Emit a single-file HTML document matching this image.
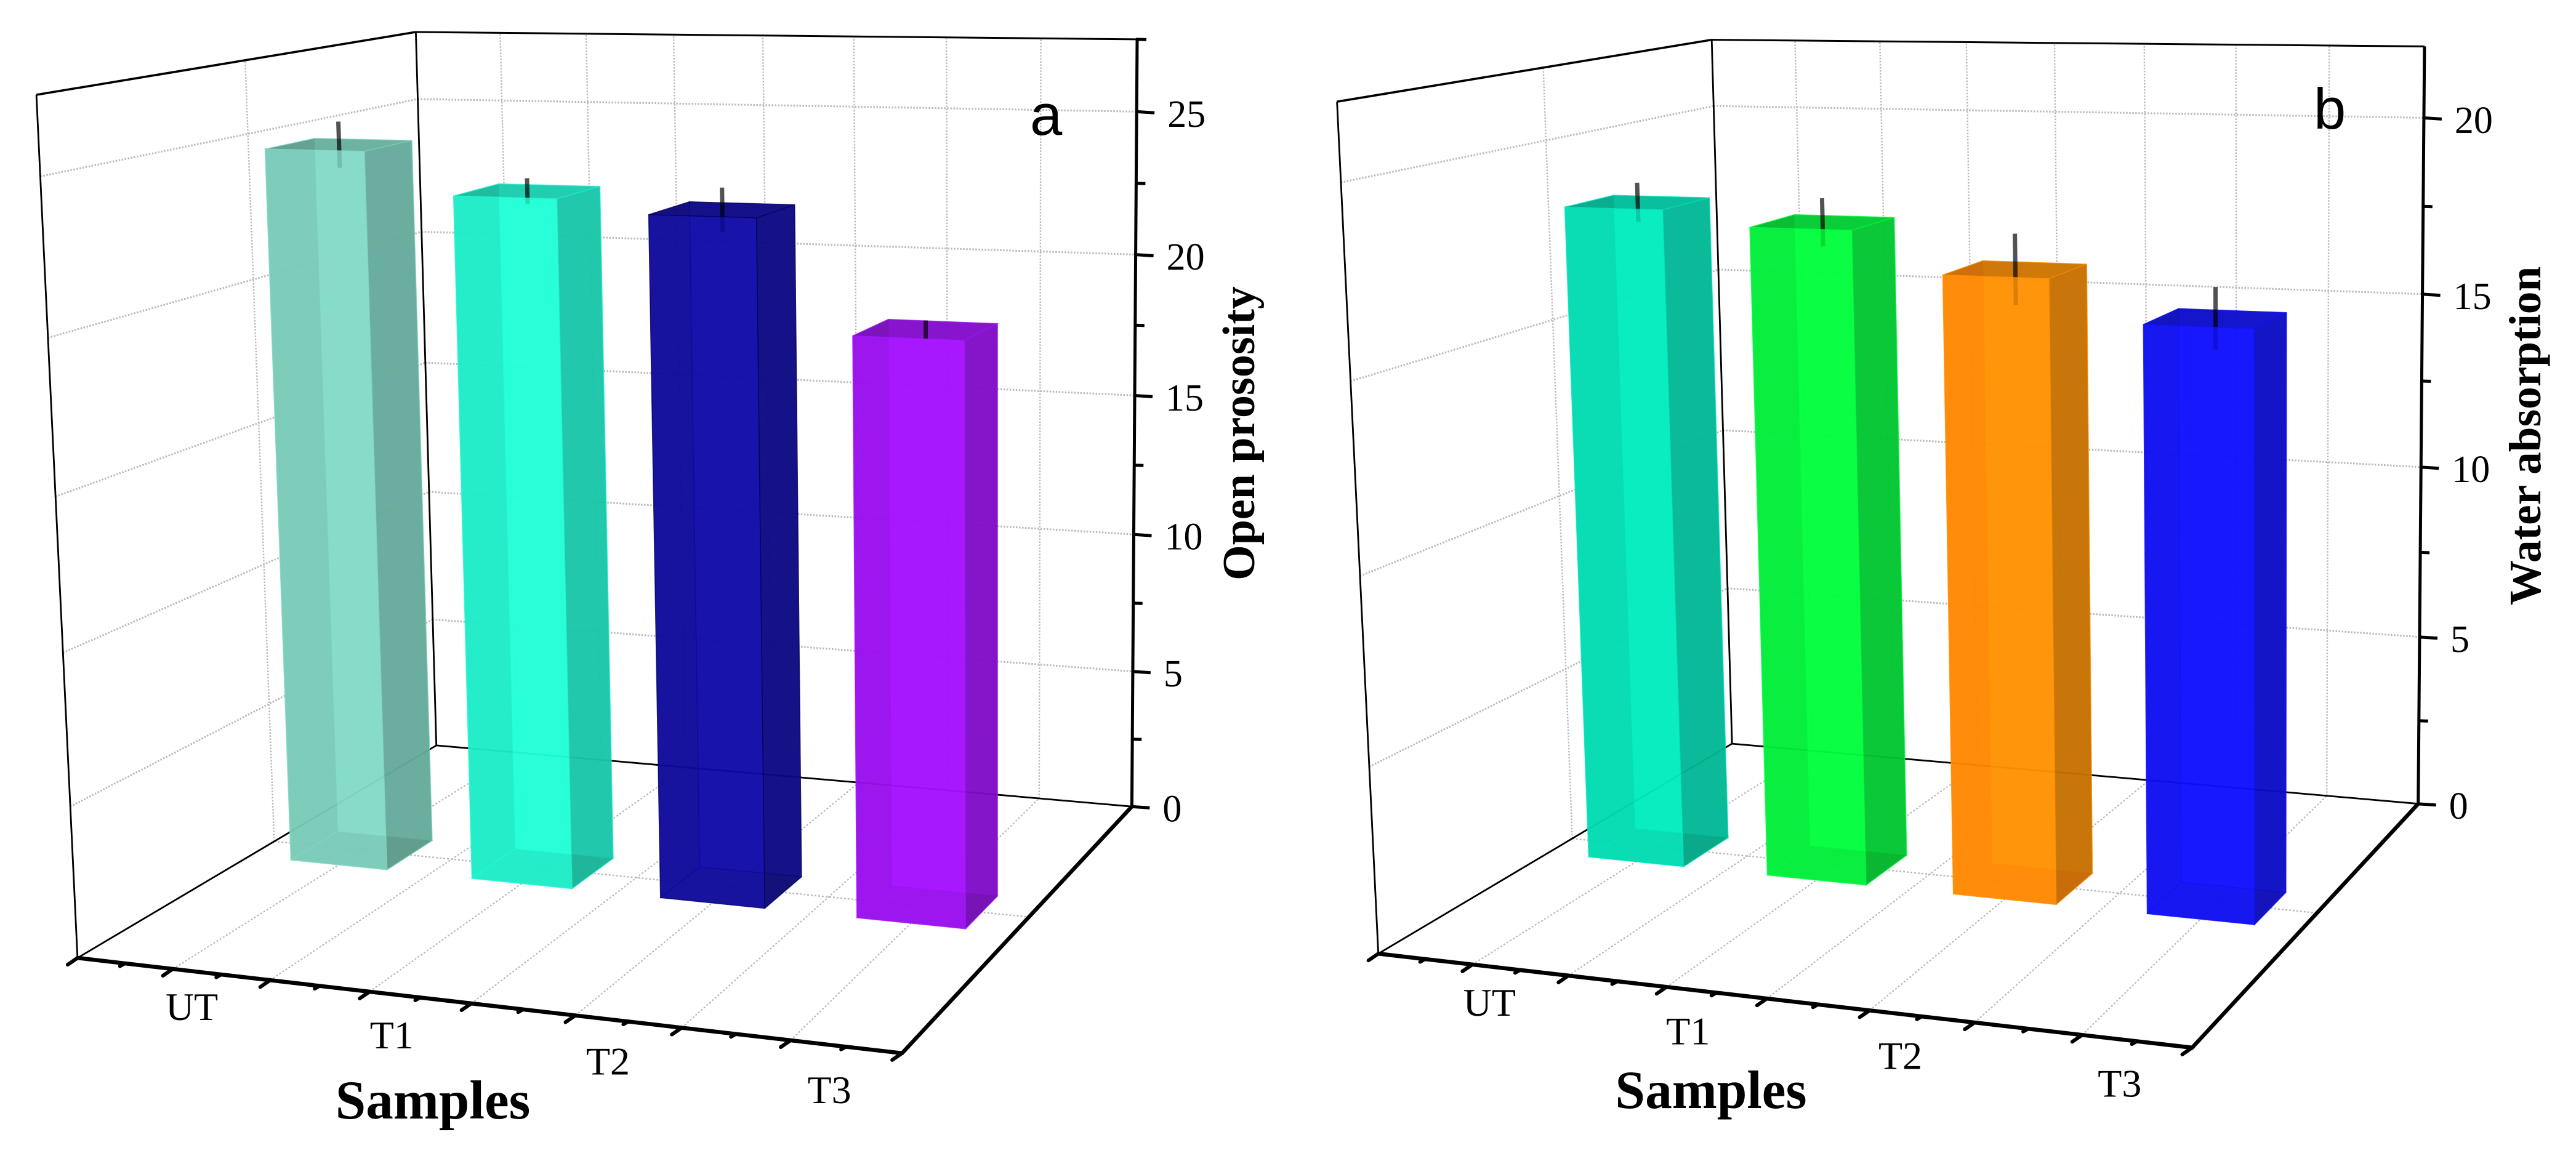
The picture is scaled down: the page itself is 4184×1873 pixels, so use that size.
<!DOCTYPE html>
<html lang="en">
<head>
<meta charset="utf-8">
<title>Open porosity and water absorption 3D bars</title>
<style>
html,body{margin:0;padding:0;background:#fff}
svg{display:block}
text{font-family:"Liberation Serif",serif;fill:#000}
.panel-letter{font-family:"Liberation Sans",sans-serif;font-size:94px}
.title{font-weight:bold}
</style>
</head>
<body>
<svg id="figure" xmlns="http://www.w3.org/2000/svg" width="4184" height="1873" viewBox="0 0 4184 1873">
  <rect x="0" y="0" width="4184" height="1873" fill="#fff"/>
  <g id="panel-a"></g>
  <g id="panel-b"></g>
  <text class="panel-letter" x="1673" y="219">a</text>
  <text class="panel-letter" x="3758" y="209">b</text>
  <text class="title" font-size="89" text-anchor="middle" x="703" y="1817">Samples</text>
  <text class="title" font-size="87.5" text-anchor="middle" x="2779" y="1800">Samples</text>
  <text class="title" font-size="74" text-anchor="middle" transform="translate(2037 704) rotate(-90)">Open prososity</text>
  <text class="title" font-size="73.3" text-anchor="middle" transform="translate(4126 708) rotate(-90)">Water absorption</text>
</svg>
<script>
const categories = ['UT', 'T1', 'T2', 'T3'];
const openPorosity = [24.7, 23.3, 22.87, 19.2];
const openPorosityError = [0.78, 0.43, 0.72, 0.3];
const waterAbsorption = [18.35, 17.95, 16.85, 15.75];
const waterAbsorptionError = [0.54, 0.65, 0.95, 0.82];
const yMajorTicksA = [0, 5, 10, 15, 20, 25];
const yMinorTicksA = [2.5, 7.5, 12.5, 17.5, 22.5, 27.5];
const yMajorTicksB = [0, 5, 10, 15, 20];
const yMinorTicksB = [2.5, 7.5, 12.5, 17.5];

const panels = [
  {
    id: 'panel-a', yMax: 27.5, values: openPorosity, errors: openPorosityError,
    yMajor: yMajorTicksA, yMinor: yMinorTicksA,
    corners: { F: [126, 1556], G: [1465, 1711], D: [1838.5, 1310], E: [708.5, 1211], A: [59, 154], B: [675.5, 52], C: [1847, 64] },
    labelDx: [31, 36, 53, 63], labelDy: [83, 92, 96, 102],
    colors: [[130, 219, 198], [31, 255, 215], [15, 10, 167], [164, 15, 255]],
    leftColors: [[72, 120, 109], [17, 140, 118], [8, 6, 92], [90, 8, 140]],
    edges: ['#7fd8c4', '#1ff8d0', '#000050', '#a018ff']
  },
  {
    id: 'panel-b', yMax: 22, values: waterAbsorption, errors: waterAbsorptionError,
    yMajor: yMajorTicksB, yMinor: yMinorTicksB,
    corners: { F: [2239, 1550], G: [3560, 1701.6], D: [3928, 1306], E: [2813, 1207.5], A: [2171.7, 164.7], B: [2780, 65], C: [3938, 75.4] },
    labelDx: [28, 35, 50, 61], labelDy: [83, 93, 95, 100],
    colors: [[0, 236, 190], [0, 255, 60], [255, 145, 0], [15, 15, 255]],
    leftColors: [[0, 130, 105], [0, 150, 40], [255, 87, 0], [8, 8, 170]],
    edges: ['#00e8c0', '#00ff40', '#ff9000', '#1010ff']
  }
];

const SVG_NS = 'http://www.w3.org/2000/svg';
const BAR_WIDTH = 0.134;
const Z_NEAR = 0.4325;
const Z_FAR = 0.5675;
const FACE_ALPHA = 0.8;

function solve(M, b) {
  const n = b.length;
  for (let i = 0; i < n; i++) {
    let piv = i;
    for (let r = i + 1; r < n; r++) if (Math.abs(M[r][i]) > Math.abs(M[piv][i])) piv = r;
    [M[i], M[piv]] = [M[piv], M[i]];
    [b[i], b[piv]] = [b[piv], b[i]];
    for (let r = i + 1; r < n; r++) {
      const f = M[r][i] / M[i][i];
      for (let c = i; c < n; c++) M[r][c] -= f * M[i][c];
      b[r] -= f * b[i];
    }
  }
  const x = new Array(n).fill(0);
  for (let i = n - 1; i >= 0; i--) {
    let s = b[i];
    for (let c = i + 1; c < n; c++) s -= M[i][c] * x[c];
    x[i] = s / M[i][i];
  }
  return x;
}

function fitCamera(c) {
  const cube = { F: [0, 0, 0], G: [1, 0, 0], D: [1, 0, 1], E: [0, 0, 1], A: [0, 1, 0], B: [0, 1, 1], C: [1, 1, 1] };
  const rows = [], rhs = [];
  for (const k of Object.keys(cube)) {
    const [x, y, z] = cube[k];
    const u = c[k][0] / 1000, v = c[k][1] / 1000;
    rows.push([x, y, z, 1, 0, 0, 0, 0, -u * x, -u * y, -u * z]);
    rhs.push(u);
    rows.push([0, 0, 0, 0, x, y, z, 1, -v * x, -v * y, -v * z]);
    rhs.push(v);
  }
  const N = [], t = [];
  for (let i = 0; i < 11; i++) {
    N.push(new Array(11).fill(0));
    t.push(0);
    for (let r = 0; r < rows.length; r++) {
      for (let j = 0; j < 11; j++) N[i][j] += rows[r][i] * rows[r][j];
      t[i] += rows[r][i] * rhs[r];
    }
  }
  const p = solve(N, t);
  return function (x, y, z) {
    const w = p[8] * x + p[9] * y + p[10] * z + 1;
    return [
      1000 * (p[0] * x + p[1] * y + p[2] * z + p[3]) / w,
      1000 * (p[4] * x + p[5] * y + p[6] * z + p[7]) / w
    ];
  };
}

function mk(tag, attrs, parent) {
  const node = document.createElementNS(SVG_NS, tag);
  for (const k in attrs) node.setAttribute(k, attrs[k]);
  parent.appendChild(node);
  return node;
}
function seg(a, b, stroke, width, parent, extra) {
  return mk('line', Object.assign({ x1: a[0].toFixed(1), y1: a[1].toFixed(1), x2: b[0].toFixed(1), y2: b[1].toFixed(1), stroke: stroke, 'stroke-width': width }, extra || {}), parent);
}
function face(points, rgb, shade, edge, parent) {
  const fill = 'rgb(' + rgb.map(v => Math.round(v * shade)).join(',') + ')';
  return mk('polygon', {
    points: points.map(q => q[0].toFixed(1) + ',' + q[1].toFixed(1)).join(' '),
    fill: fill, 'fill-opacity': FACE_ALPHA, stroke: edge, 'stroke-width': 1.5, 'stroke-opacity': 0.55
  }, parent);
}

const GRID = '#b8b8b8';
const wallDash = { 'stroke-dasharray': '2.5 2.5' };
const floorDash = { 'stroke-dasharray': '3 3' };

panels.forEach(function (panel) {
  const g = document.getElementById(panel.id);
  const project = fitCamera(panel.corners);
  const xScale = v => (v - 0.5) / 4;
  const yScale = v => v / panel.yMax;
  let el;

  // floor grid: lines from each major x tick running back, and mid-depth line
  for (let t = 1; t <= 7; t++) {
    const xv = 0.5 + t * 0.5;
    el = seg(project(xScale(xv), 0, 0), project(xScale(xv), 0, 1), GRID, 2.2, g, floorDash);
    
    
    el = seg(project(xScale(xv), 0, 1), project(xScale(xv), 1, 1), GRID, 2.4, g, wallDash);
    
    
  }
  el = seg(project(0, 0, 0.5), project(1, 0, 0.5), GRID, 2.4, g, floorDash);
  
  
  el = seg(project(0, 0, 0.5), project(0, 1, 0.5), GRID, 2.4, g, wallDash);
  
  

  panel.yMajor.forEach(function (v) {
    if (v === 0) return;
    const y = yScale(v);
    el = seg(project(0, y, 0), project(0, y, 1), GRID, 3, g, wallDash);
    
    
    el = seg(project(0, y, 1), project(1, y, 1), GRID, 3, g, wallDash);
    
    
  });

  // rear frame lines, seen through the translucent bars
  el = seg(project(0, 0, 0), project(0, 0, 1), '#000', 2.8, g);
  
  
  el = seg(project(0, 0, 1), project(1, 0, 1), '#000', 2.8, g);
  
  
  el = seg(project(0, 0, 1), project(0, 1, 1), '#000', 2.8, g);
  
  
  el = seg(project(0, 0, 0), project(0, 1, 0), '#000', 2.8, g);
  
  
  el = seg(project(0, 1, 0), project(0, 1, 1), '#000', 3.6, g);
  
  
  el = seg(project(0, 1, 1), project(1, 1, 1), '#000', 3, g);
  
  

  // bars
  categories.forEach(function (cat, i) {
    const cx = xScale(i + 1);
    const xa = cx - BAR_WIDTH / 2, xb = cx + BAR_WIDTH / 2;
    const top = yScale(panel.values[i]);
    const rgb = panel.colors[i], left = panel.leftColors[i], edge = panel.edges[i];
    const bar = mk('g', {}, g);
    
    
    const P = (x, y, z) => project(x, y, z);
    face([P(xa, 0, Z_FAR), P(xb, 0, Z_FAR), P(xb, top, Z_FAR), P(xa, top, Z_FAR)], rgb, 1, edge, bar);
    face([P(xa, 0, Z_NEAR), P(xa, 0, Z_FAR), P(xa, top, Z_FAR), P(xa, top, Z_NEAR)], left, 1, edge, bar);
    face([P(xa, 0, Z_NEAR), P(xb, 0, Z_NEAR), P(xb, 0, Z_FAR), P(xa, 0, Z_FAR)], left, 1, edge, bar);
    face([P(xa, top, Z_NEAR), P(xb, top, Z_NEAR), P(xb, top, Z_FAR), P(xa, top, Z_FAR)], rgb, 0.76, edge, bar);
    const zMid = (Z_NEAR + Z_FAR) / 2;
    el = seg(P(cx, yScale(panel.values[i] - panel.errors[i]), zMid), P(cx, yScale(panel.values[i] + panel.errors[i]), zMid), '#000', 7, bar, { 'stroke-opacity': 0.68 });
    
    
    face([P(xa, 0, Z_NEAR), P(xb, 0, Z_NEAR), P(xb, top, Z_NEAR), P(xa, top, Z_NEAR)], rgb, 1, edge, bar);
    face([P(xb, 0, Z_NEAR), P(xb, 0, Z_FAR), P(xb, top, Z_FAR), P(xb, top, Z_NEAR)], rgb, 0.73, edge, bar);
  });

  // front axes
  el = seg(project(0, 0, 0), project(1, 0, 0), '#000', 6.6, g, { 'stroke-linecap': 'round' });
  
  
  el = seg(project(1, 0, 0), project(1, 0, 1), '#000', 6.4, g, { 'stroke-linecap': 'round' });
  
  
  el = seg(project(1, 0, 1), project(1, 1, 1), '#000', 5, g);
  
  

  for (let t = 0; t <= 16; t++) {
    const q = project(t / 16, 0, 0);
    const major = t % 2 === 0;
    const d = major ? [-16, 11] : [-8, 4.5];
    el = seg(q, [q[0] + d[0], q[1] + d[1]], '#000', 6, g, { 'stroke-linecap': 'round' });
    
    
  }

  categories.forEach(function (cat, i) {
    const q = project(xScale(i + 1), 0, 0);
    el = mk('text', { x: (q[0] + panel.labelDx[i]).toFixed(1), y: (q[1] + panel.labelDy[i]).toFixed(1), 'font-size': 64, 'text-anchor': 'middle' }, g);
    el.textContent = cat;
    
    
  });

  panel.yMajor.forEach(function (v) {
    const q = project(1, yScale(v), 1);
    el = seg([q[0] - 2, q[1]], [q[0] + 29, q[1] + 2], '#000', 5, g);
    
    
    el = mk('text', { x: (q[0] + 50).toFixed(1), y: (q[1] + 24.5).toFixed(1), 'font-size': 62 }, g);
    el.textContent = String(v);
    
    
  });
  panel.yMinor.forEach(function (v) {
    const q = project(1, yScale(v), 1);
    el = seg([q[0] - 2, q[1]], [q[0] + 15, q[1] + 0.5], '#000', 5, g);
    
    
  });
});
</script>
</body>
</html>
